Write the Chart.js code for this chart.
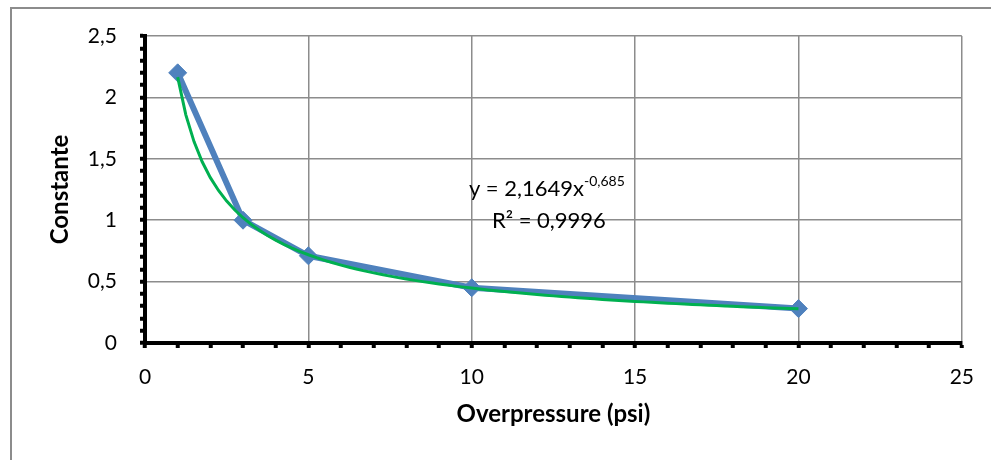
<!DOCTYPE html>
<html>
<head>
<meta charset="utf-8">
<script src="https://cdn.jsdelivr.net/npm/chart.js@4.4.1/dist/chart.umd.min.js"></script>
<style>
html, body { margin: 0; padding: 0; background: #fff; }
#wrap { position: relative; width: 991px; height: 460px; overflow: hidden; }
#frame { position: absolute; left: 10px; top: 7px; width: 1000px; height: 500px; border: 2px solid #8c8c8c; box-sizing: border-box; }
canvas { position: absolute; left: 0; top: 0; }
</style>
</head>
<body>
<div id="wrap">
  <div id="frame"></div>
  <canvas id="chart" width="991" height="460"></canvas>
</div>
<script>
// data
const pressure = [1, 3, 5, 10, 20];
const constante = [2.2, 1.0, 0.71, 0.45, 0.28];

// power trendline as printed on the chart
const trendCoef = 2.1649;
const trendExp = -0.685;
const trendText = ['y = 2,1649x', '-0,685', 'R² = 0,9996'];

const xTicks = [0, 5, 10, 15, 20, 25];
const yTicks = [0, 0.5, 1, 1.5, 2, 2.5];

const FONT = 'Lato, "Open Sans", sans-serif';

// curve samples of the fitted power law between first and last point
const trendPoints = [];
for (let px = pressure[0]; px <= pressure[pressure.length - 1] + 1e-9; px += 0.25) {
    trendPoints.push({ x: px, y: trendCoef * Math.pow(px, trendExp) });
}

const fmt = v => String(v).replace('.', ',');
const isMajor = (v, list) => list.some(t => Math.abs(t - v) < 1e-6);

const trendLabel = {
    id: 'trendLabel',
    afterDatasetsDraw(chart) {
        const { ctx, scales: { x, y } } = chart;
        const cx = x.getPixelForValue(12.3);
        const base1 = y.getPixelForValue(1.195);
        const base2 = y.getPixelForValue(0.935);
        ctx.save();
        ctx.fillStyle = '#000';
        ctx.textBaseline = 'alphabetic';
        ctx.font = '22px ' + FONT;
        const w1 = ctx.measureText(trendText[0]).width;
        ctx.font = '14px ' + FONT;
        const w2 = ctx.measureText(trendText[1]).width;
        const left = cx - (w1 + w2) / 2;
        ctx.font = '22px ' + FONT;
        ctx.textAlign = 'left';
        ctx.fillText(trendText[0], left, base1);
        ctx.font = '14px ' + FONT;
        ctx.fillText(trendText[1], left + w1, base1 - 10);
        ctx.font = '22px ' + FONT;
        ctx.textAlign = 'center';
        ctx.fillText(trendText[2], cx + 2, base2);
        ctx.restore();
    }
};

const data = {
    datasets: [{
        label: 'Power trend',
        data: trendPoints,
        showLine: true,
        borderColor: '#00b050',
        borderWidth: 3,
        pointRadius: 0,
        tension: 0,
        order: 0
    }, {
        label: 'Constante',
        data: pressure.map((p, i) => ({ x: p, y: constante[i] })),
        showLine: true,
        borderColor: '#4f81bd',
        backgroundColor: '#4f81bd',
        borderWidth: 6,
        pointStyle: 'rectRot',
        pointRadius: 9,
        pointBorderWidth: 1,
        pointBorderColor: '#4f81bd',
        pointBackgroundColor: '#4f81bd',
        order: 1
    }]
};

const config = {
    type: 'scatter',
    data: data,
    options: {
        responsive: false,
        animation: false,
        devicePixelRatio: 1,
        layout: { padding: { top: 36, right: 29, left: 0, bottom: 0 } },
        plugins: {
            legend: { display: false },
            tooltip: { enabled: false }
        },
        scales: {
            x: {
                type: 'linear',
                min: 0,
                max: 25,
                afterFit: s => { s.height = 117; },
                ticks: {
                    stepSize: 1,
                    autoSkip: false,
                    maxRotation: 0,
                    padding: 17,
                    color: '#000',
                    font: { family: FONT, size: 21 },
                    callback: v => isMajor(v, xTicks) ? fmt(v) : ''
                },
                grid: {
                    color: c => isMajor(c.tick.value, xTicks) ? '#8c8c8c' : 'rgba(0,0,0,0)',
                    lineWidth: 1.5,
                    tickColor: '#000',
                    tickWidth: 4,
                    tickLength: 5
                },
                border: { color: '#000', width: 4 },
                title: {
                    display: true,
                    text: 'Overpressure (psi)',
                    color: '#000',
                    font: { family: FONT, size: 24, weight: 'bold' },
                    padding: { top: 0, bottom: 31 }
                }
            },
            y: {
                type: 'linear',
                min: 0,
                max: 2.5,
                afterFit: s => { s.width = 145; },
                ticks: {
                    stepSize: 0.1,
                    autoSkip: false,
                    padding: 23,
                    color: '#000',
                    font: { family: FONT, size: 21 },
                    callback: v => isMajor(v, yTicks) ? fmt(Math.round(v * 10) / 10) : ''
                },
                grid: {
                    color: c => isMajor(c.tick.value, yTicks) ? '#8c8c8c' : 'rgba(0,0,0,0)',
                    lineWidth: 1.5,
                    tickColor: '#000',
                    tickWidth: 4,
                    tickLength: 5
                },
                border: { color: '#000', width: 4 },
                title: {
                    display: true,
                    text: 'Constante',
                    color: '#000',
                    font: { family: FONT, size: 24, weight: 'bold' },
                    padding: { top: 46, bottom: 0 }
                }
            }
        }
    },
    plugins: [trendLabel]
};

const constChart = new Chart(document.getElementById('chart'), config);
</script>
</body>
</html>
